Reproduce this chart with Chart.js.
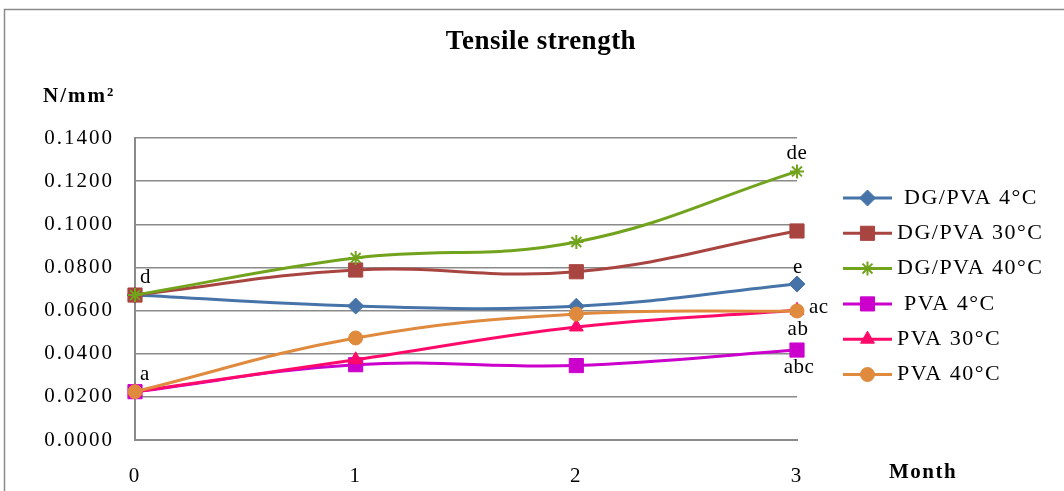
<!DOCTYPE html>
<html>
<head>
<meta charset="utf-8">
<title>Tensile strength</title>
<script src="https://cdn.jsdelivr.net/npm/chart.js@4/dist/chart.umd.min.js"></script>
<style>
  html, body { margin: 0; padding: 0; background: #fff; }
  canvas { display: block; }
</style>
</head>
<body>
<canvas id="chart" width="1064" height="491"></canvas>
<script>
// Storage time in months
const months = ['0', '1', '2', '3'];

// Series names (legend)
const seriesNames = [' DG/PVA 4°C', 'DG/PVA 30°C', 'DG/PVA 40°C', ' PVA 4°C', 'PVA 30°C', 'PVA 40°C'];

// Tensile strength, N/mm²
const dgPva4  = [0.0672, 0.0621, 0.0620, 0.0723];
const dgPva30 = [0.0672, 0.0788, 0.0780, 0.0969];
const dgPva40 = [0.0672, 0.0844, 0.0918, 0.1245];
const pva4    = [0.0224, 0.0349, 0.0345, 0.0417];
const pva30   = [0.0224, 0.0372, 0.0524, 0.0601];
const pva40   = [0.0224, 0.0473, 0.0584, 0.0598];

// Y-axis ticks
const yTicks = [0, 0.02, 0.04, 0.06, 0.08, 0.10, 0.12, 0.14];

// Significance letters: series index and month they belong to
const groupLetters = [
  { text: 'd',   series: 1, month: 0 },
  { text: 'a',   series: 4, month: 0 },
  { text: 'de',  series: 2, month: 3 },
  { text: 'e',   series: 0, month: 3 },
  { text: 'ac',  series: 5, month: 3 },
  { text: 'ab',  series: 4, month: 3 },
  { text: 'abc', series: 3, month: 3 }
];

const seriesValues = [dgPva4, dgPva30, dgPva40, pva4, pva30, pva40];

const SERIF = '"Liberation Serif", "Times New Roman", Times, serif';
Chart.defaults.font.family = SERIF;
Chart.defaults.color = '#000';

const seriesStyles = [
  { color: '#4674A9', pointStyle: 'rectRot',  radius: 8,  borderWidth: 1 },
  { color: '#A94541', pointStyle: 'rect',     radius: 10, borderWidth: 1 },
  { color: '#72A31C', pointStyle: 'star',     radius: 7,  borderWidth: 2 },
  { color: '#CC00CC', pointStyle: 'rect',     radius: 10, borderWidth: 1 },
  { color: '#FF0A6A', pointStyle: 'triangle', radius: 8,  borderWidth: 1 },
  { color: '#E08A3E', pointStyle: 'circle',   radius: 7,  borderWidth: 1 }
];

const datasets = seriesValues.map((vals, i) => ({
  label: seriesNames[i],
  data: vals,
  borderColor: seriesStyles[i].color,
  backgroundColor: seriesStyles[i].color,
  borderWidth: 3,
  tension: 0.4,
  pointStyle: seriesStyles[i].pointStyle,
  pointRadius: seriesStyles[i].radius,
  pointBorderWidth: seriesStyles[i].borderWidth,
  pointBackgroundColor: seriesStyles[i].color,
  pointBorderColor: seriesStyles[i].color,
  clip: false,
  order: seriesValues.length - 1 - i
}));

// Placement of significance letters relative to their point
const letterPlacement = {
  'd':   { dx: 5,  dy: -12, align: 'left' },
  'a':   { dx: 5,  dy: -12, align: 'left' },
  'de':  { dx: 0,  dy: -12, align: 'center' },
  'e':   { dx: 1,  dy: -11, align: 'center' },
  'ac':  { dx: 12, dy: 2,   align: 'left' },
  'ab':  { dx: 1,  dy: 25,  align: 'center' },
  'abc': { dx: 2,  dy: 23,  align: 'center' }
};

function spacedText(ctx, text, x, y, font, spacing, align, baseline) {
  ctx.save();
  ctx.font = font;
  ctx.letterSpacing = spacing;
  ctx.textAlign = align;
  ctx.textBaseline = baseline;
  ctx.fillStyle = '#000';
  ctx.fillText(text, x, y);
  ctx.restore();
}

const decorPlugin = {
  id: 'decor',
  beforeUpdate(chart) { chart.ctx.letterSpacing = '2px'; },
  beforeDraw(chart) {
    const ctx = chart.ctx;
    ctx.letterSpacing = '2px';
    ctx.save();
    ctx.fillStyle = '#fff';
    ctx.fillRect(0, 0, chart.width, chart.height);
    ctx.strokeStyle = '#8a8a8a';
    ctx.lineWidth = 1.5;
    ctx.strokeRect(4.5, 9.5, 1200, 600);
    ctx.restore();
  },
  afterDraw(chart) {
    const ctx = chart.ctx;
    const xs = chart.scales.x, ys = chart.scales.y;

    // Titles
    spacedText(ctx, 'Tensile strength', 541, 42, 'bold 27px ' + SERIF, '0.5px', 'center', 'middle');
    spacedText(ctx, 'N/mm²', 43, 97, 'bold 21px ' + SERIF, '2px', 'left', 'middle');
    spacedText(ctx, 'Month', 889, 473, 'bold 21px ' + SERIF, '1.5px', 'left', 'middle');

    // Significance letters
    groupLetters.forEach(g => {
      const p = letterPlacement[g.text];
      const px = xs.getPixelForValue(g.month);
      const py = ys.getPixelForValue(seriesValues[g.series][g.month]);
      spacedText(ctx, g.text, px + p.dx, py + p.dy, '21px ' + SERIF, '0.5px', p.align, 'alphabetic');
    });

    // Legend
    const lx0 = 843, lx1 = 892, ly0 = 198, step = 35.3;
    chart.data.datasets.forEach((ds, i) => {
      const y = ly0 + i * step;
      ctx.save();
      ctx.strokeStyle = ds.borderColor;
      ctx.lineWidth = 3;
      ctx.beginPath();
      ctx.moveTo(lx0, y);
      ctx.lineTo(lx1, y);
      ctx.stroke();
      ctx.fillStyle = ds.pointBackgroundColor;
      ctx.strokeStyle = ds.pointBorderColor;
      ctx.lineWidth = ds.pointBorderWidth;
      Chart.helpers.drawPoint(ctx, {
        pointStyle: ds.pointStyle,
        radius: ds.pointRadius,
        rotation: 0,
        borderWidth: ds.pointBorderWidth
      }, (lx0 + lx1) / 2, y);
      ctx.restore();
      spacedText(ctx, ds.label, 897, y, '22px ' + SERIF, '1.5px', 'left', 'middle');
    });
  }
};

new Chart(document.getElementById('chart'), {
  type: 'line',
  data: { labels: months, datasets },
  plugins: [decorPlugin],
  options: {
    responsive: false,
    animation: false,
    events: [],
    layout: { padding: { top: 138, right: 267, left: 0, bottom: 0 } },
    plugins: {
      legend: { display: false },
      title: { display: false },
      tooltip: { enabled: false }
    },
    scales: {
      x: {
        offset: false,
        grid: { display: false, drawTicks: false },
        border: { display: true, color: '#8a8a8a', width: 2 },
        ticks: { font: { size: 21 }, padding: 24, maxRotation: 0, autoSkip: false },
        afterFit(s) { s.height = 51; }
      },
      y: {
        min: 0,
        max: 0.14,
        afterBuildTicks(s) { s.ticks = yTicks.map(v => ({ value: v })); },
        grid: { color: '#8a8a8a', lineWidth: 1.5, drawTicks: false },
        border: { display: true, color: '#8a8a8a', width: 2 },
        ticks: { font: { size: 21 }, padding: 21, callback: v => Number(v).toFixed(4) },
        afterFit(s) { s.width = 135; }
      }
    }
  }
});
</script>
</body>
</html>
